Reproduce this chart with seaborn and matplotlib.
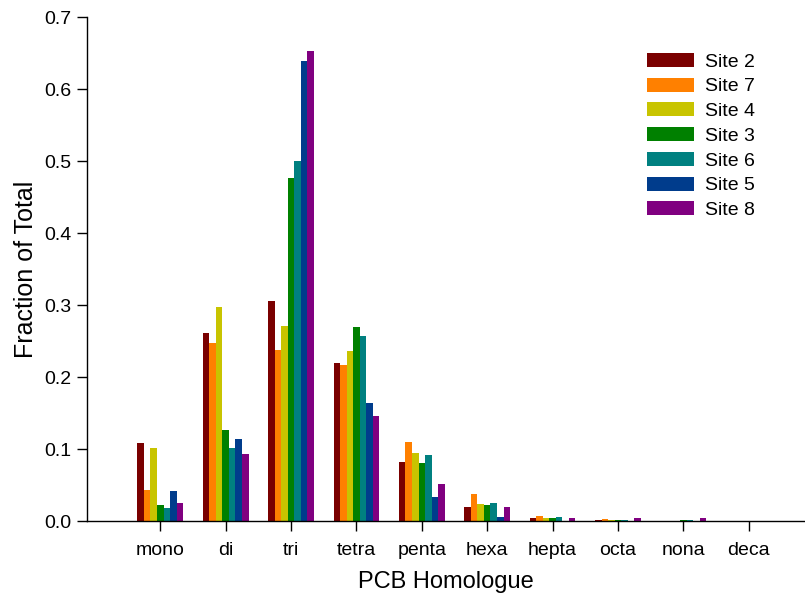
import matplotlib
matplotlib.use("Agg")
import matplotlib.pyplot as plt
import seaborn as sns
import pandas as pd

homologues = ["mono", "di", "tri", "tetra", "penta", "hexa", "hepta", "octa", "nona", "deca"]
sites = ["Site 2", "Site 7", "Site 4", "Site 3", "Site 6", "Site 5", "Site 8"]
site2 = [0.109, 0.261, 0.306, 0.219, 0.082, 0.020, 0.004, 0.002, 0.000, 0.0]
site7 = [0.043, 0.247, 0.237, 0.216, 0.110, 0.037, 0.007, 0.003, 0.000, 0.0]
site4 = [0.102, 0.297, 0.271, 0.236, 0.095, 0.023, 0.004, 0.002, 0.000, 0.0]
site3 = [0.022, 0.127, 0.476, 0.270, 0.080, 0.022, 0.004, 0.002, 0.002, 0.0]
site6 = [0.018, 0.102, 0.500, 0.257, 0.091, 0.025, 0.005, 0.002, 0.002, 0.0]
site5 = [0.042, 0.114, 0.639, 0.164, 0.034, 0.006, 0.000, 0.000, 0.000, 0.0]
site8 = [0.025, 0.093, 0.653, 0.146, 0.052, 0.020, 0.004, 0.004, 0.004, 0.0]
colors = ["#7a0000", "#ff8000", "#c8c400", "#008000", "#008080", "#003c8c", "#800080"]

series = [site2, site7, site4, site3, site6, site5, site8]
rows = []
for s, vals in zip(sites, series):
    for h, v in zip(homologues, vals):
        rows.append({"Homologue": h, "Site": s, "Fraction": v})
df = pd.DataFrame(rows)

sns.set_style("ticks")
plt.rcParams["font.family"] = ["Liberation Sans", "DejaVu Sans"]
plt.rcParams["text.color"] = "black"
plt.rcParams["axes.labelcolor"] = "black"
plt.rcParams["xtick.color"] = "black"
plt.rcParams["ytick.color"] = "black"

fig = plt.figure(figsize=(8.05, 6.04), dpi=100)
ax = fig.add_axes([87 / 805, 1 - 521 / 604, 1 - 87 / 805, (521 - 17) / 604])

sns.barplot(data=df, x="Homologue", y="Fraction", hue="Site", order=homologues,
            hue_order=sites, palette=colors, width=0.7, gap=0, linewidth=0,
            saturation=1, errorbar=None, ax=ax)

ax.set_xlim(-1.12, 9.86)
ax.set_ylim(0, 0.7)
ax.set_yticks([0, 0.1, 0.2, 0.3, 0.4, 0.5, 0.6, 0.7])
ax.set_yticklabels(["0.0", "0.1", "0.2", "0.3", "0.4", "0.5", "0.6", "0.7"])
ax.set_xlabel("PCB Homologue", fontsize=17, labelpad=9, color="black")
ax.set_ylabel("Fraction of Total", fontsize=18, labelpad=5, color="black")
ax.tick_params(axis="both", labelsize=14, length=7, width=1, colors="black", direction="out")
ax.tick_params(axis="x", pad=8)
ax.tick_params(axis="y", pad=4)
for side in ["top", "right"]:
    ax.spines[side].set_visible(False)
for side in ["left", "bottom"]:
    ax.spines[side].set_linewidth(1)
    ax.spines[side].set_color("black")

leg = ax.legend(loc="upper left", bbox_to_anchor=(647 / 805, 1 - 53 / 604),
                bbox_transform=fig.transFigure, frameon=False, fontsize=14,
                handlelength=2.4, handleheight=0.72, handletextpad=0.6,
                labelspacing=0.36, borderpad=0, borderaxespad=0, title=None)
for t in leg.get_texts():
    t.set_color("black")

fig.savefig("out.png", dpi=100)
